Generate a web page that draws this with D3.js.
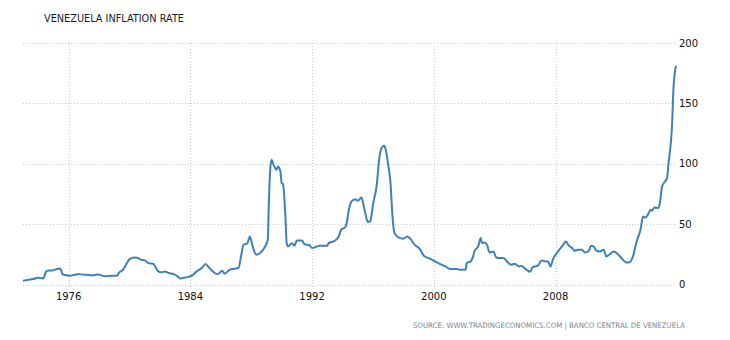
<!DOCTYPE html>
<html>
<head>
<meta charset="utf-8">
<script src="https://cdn.jsdelivr.net/npm/d3@7"></script>
<style>
  html, body { margin: 0; padding: 0; background: #ffffff; }
  svg { display: block; }
</style>
</head>
<body>
<svg id="chart" width="730" height="340"></svg>
<script>
// ---- data ----
const title = "VENEZUELA INFLATION RATE";
const sourceText = "SOURCE: WWW.TRADINGECONOMICS.COM  |  BANCO CENTRAL DE VENEZUELA";
const xTickYears = [1976, 1984, 1992, 2000, 2008];
const yTicks = [0, 50, 100, 150, 200];
const dates = [
  "1973-01","1973-09","1974-01","1974-05","1974-07","1974-08","1974-12","1975-04","1975-06","1975-07",
  "1975-08","1975-10","1976-02","1976-06","1976-09","1977-01","1977-03","1977-07","1977-12","1978-06",
  "1978-11","1979-03","1979-05","1979-08","1979-11","1980-01","1980-05","1980-08","1980-10","1981-01",
  "1981-04","1981-08","1981-11","1982-02","1982-05","1982-08","1982-12","1983-03","1983-05","1983-09",
  "1984-02","1984-06","1984-10","1985-01","1985-03","1985-06","1985-10","1985-12","1986-02","1986-04",
  "1986-08","1986-12","1987-03","1987-05","1987-07","1987-10","1987-12","1988-01","1988-03","1988-05",
  "1988-08","1988-12","1989-02","1989-03","1989-04","1989-05","1989-07","1989-09","1989-10","1989-12",
  "1990-01","1990-02","1990-04","1990-05","1990-06","1990-09","1990-11","1991-01","1991-05","1991-07",
  "1991-11","1992-01","1992-05","1992-07","1993-01","1993-02","1993-07","1993-10","1993-12","1994-03",
  "1994-04","1994-06","1994-08","1994-11","1995-01","1995-04","1995-05","1995-07","1995-09","1995-11",
  "1996-01","1996-04","1996-06","1996-08","1996-10","1996-11","1997-01","1997-03","1997-04","1997-06",
  "1997-09","1998-01","1998-04","1998-06","1998-10","1999-02","1999-05","1999-10","2000-02","2000-06",
  "2000-10","2001-02","2001-07","2001-10","2002-02","2002-03","2002-06","2002-08","2002-09","2002-12",
  "2003-02","2003-03","2003-05","2003-07","2003-09","2003-12","2004-02","2004-05","2004-08","2004-10",
  "2005-02","2005-05","2005-08","2005-10","2006-02","2006-05","2006-07","2006-11","2007-02","2007-05",
  "2007-07","2007-09","2007-11","2008-02","2008-05","2008-07","2008-09","2008-11","2009-02","2009-04",
  "2009-07","2009-10","2009-12","2010-03","2010-05","2010-07","2010-09","2010-12","2011-03","2011-05",
  "2011-08","2011-11","2012-02","2012-05","2012-09","2012-11","2013-02","2013-05","2013-08","2013-10",
  "2013-12","2014-02","2014-04","2014-05","2014-07","2014-10","2014-11","2015-01","2015-03","2015-05",
  "2015-06","2015-09","2015-10","2015-12"
];
const inflation = [
  3.3,4.7,5.8,5.2,10.2,11.6,11.8,13.0,13.5,12.4,
  9.1,8.0,7.4,8.3,8.8,8.3,8.3,7.7,8.5,6.9,
  7.4,7.4,10.2,12.4,17.9,21.2,22.6,22.0,20.7,20.1,
  17.9,17.1,11.8,10.2,11.0,9.7,8.8,6.9,5.2,6.0,
  7.4,11.0,13.8,17.1,15.1,11.8,8.8,9.7,11.6,9.1,
  12.4,13.2,13.8,23.4,33.0,34.4,39.9,36.6,28.9,24.8,
  26.2,31.7,37.2,70.2,95.0,103.3,98.3,95.0,97.8,93.6,
  84.0,83.2,56.4,34.4,31.7,34.4,32.2,36.6,36.6,33.6,
  32.5,30.3,31.7,32.2,32.2,34.4,36.4,39.9,45.5,47.4,
  49.6,62.0,68.8,70.8,69.4,72.2,68.8,59.2,51.8,52.9,
  66.1,82.6,104.7,113.5,114.9,111.6,99.2,82.6,63.4,42.7,
  39.1,38.0,39.9,38.6,33.0,29.5,24.2,21.5,19.3,17.1,
  15.1,13.0,13.0,12.4,12.4,17.9,19.3,23.4,27.5,31.7,
  38.6,34.4,35.0,33.0,26.7,27.5,22.9,22.0,22.0,20.1,
  16.5,17.4,15.1,15.7,12.4,10.7,14.6,15.7,20.1,19.3,
  19.3,15.1,21.2,26.2,30.3,33.0,35.8,33.0,30.3,28.1,
  28.9,28.9,26.7,27.5,32.2,31.7,28.3,27.5,28.9,23.4,
  25.4,27.5,25.4,22.0,18.4,18.4,23.4,35.8,45.5,56.4,
  55.6,58.4,62.0,61.2,63.9,63.4,66.1,81.2,84.9,88.2,
  99.2,135.0,162.6,181.2
];

// ---- drawing ----
const parse = d3.timeParse("%Y-%m");
const series = dates.map((d, i) => ({ date: parse(d), value: inflation[i] }));

const svg = d3.select("#chart");
const plotLeft = 23, plotRight = 676, plotTop = 43, plotBottom = 284.7;

const x = d3.scaleTime()
  .domain([parse("1973-01"), parse("2015-12")])
  .range([plotLeft, plotRight]);
const y = d3.scaleLinear().domain([0, 200]).range([plotBottom, plotTop]);

const gridColor = "#c9c9c9";
const labelFont = "DejaVu Sans, Verdana, sans-serif";

// horizontal grid
svg.append("g").selectAll("line").data(yTicks).join("line")
  .attr("x1", plotLeft).attr("x2", plotRight)
  .attr("y1", d => Math.round(y(d)) + 0.5).attr("y2", d => Math.round(y(d)) + 0.5)
  .attr("stroke", gridColor).attr("stroke-width", 1).attr("stroke-dasharray", "1,2");

// vertical grid
const xTicks = xTickYears.map(yr => new Date(yr, 0, 1));
svg.append("g").selectAll("line").data(xTicks).join("line")
  .attr("x1", d => Math.round(x(d)) + 0.5).attr("x2", d => Math.round(x(d)) + 0.5)
  .attr("y1", plotTop).attr("y2", plotBottom + 4)
  .attr("stroke", gridColor).attr("stroke-width", 1).attr("stroke-dasharray", "1,2");

// x labels
svg.append("g").selectAll("text").data(xTicks).join("text")
  .attr("x", d => x(d)).attr("y", 300)
  .attr("text-anchor", "middle")
  .attr("font-family", labelFont).attr("font-size", 10)
  .attr("fill", "#111")
  .text(d => d3.timeFormat("%Y")(d));

// y labels
svg.append("g").selectAll("text").data(yTicks).join("text")
  .attr("x", 679).attr("y", d => y(d))
  .attr("dy", "0.35em")
  .attr("font-family", labelFont).attr("font-size", 10)
  .attr("fill", "#111")
  .text(d => d);

// line
const line = d3.line().x(d => x(d.date)).y(d => y(d.value)).curve(d3.curveMonotoneX);
svg.append("path").datum(series)
  .attr("d", line)
  .attr("fill", "none")
  .attr("stroke", "#4080b9")
  .attr("stroke-width", 2)
  .attr("stroke-linejoin", "round");

// title
svg.append("text")
  .attr("x", 44).attr("y", 22)
  .attr("font-family", labelFont).attr("font-size", 11)
  .attr("fill", "#1a1a2a")
  .attr("textLength", 140).attr("lengthAdjust", "spacingAndGlyphs")
  .text(title);

// source
svg.append("text")
  .attr("x", 413).attr("y", 328)
  .attr("font-family", labelFont).attr("font-size", 7.5)
  .attr("fill", "#7a8696")
  .attr("textLength", 272).attr("lengthAdjust", "spacingAndGlyphs")
  .text(sourceText);
</script>
</body>
</html>
